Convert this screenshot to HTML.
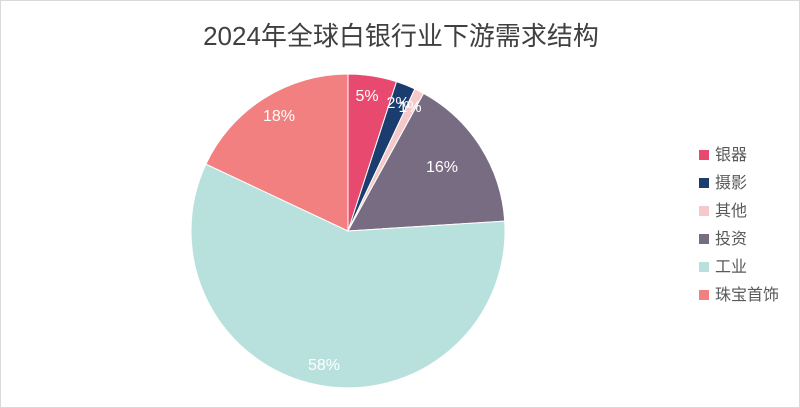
<!DOCTYPE html>
<html><head><meta charset="utf-8"><style>
body{margin:0;background:#fff;}
.wrap{position:relative;width:798px;height:406px;border:1px solid #d9d9d9;overflow:hidden;font-family:"Liberation Sans","Noto Sans CJK SC",sans-serif;}
.title{position:absolute;top:15px;left:0;width:800px;text-align:center;font-size:26px;color:#404040;}
.lab{position:absolute;color:#fff;font-size:16px;transform:translate(-50%,-50%);white-space:nowrap;}
.leg{position:absolute;left:698px;font-size:16px;color:#595959;line-height:20px;}
.leg i{display:inline-block;width:10px;height:10px;margin-right:6px;vertical-align:0px;}
</style></head><body><div class="wrap">
<div class="title">2024年全球白银行业下游需求结构</div>
<svg width="800" height="408" style="position:absolute;left:0;top:0">
<g stroke="#fff" stroke-width="1">
<path d="M347,230 L347,73 A157,157 0 0 1 395.5,80.7 Z" fill="#E8496F"/>
<path d="M347,230 L395.5,80.7 A157,157 0 0 1 413.9,87.9 Z" fill="#1B3C6E"/>
<path d="M347,230 L413.9,87.9 A157,157 0 0 1 422.6,92.4 Z" fill="#F5C9C9"/>
<path d="M347,230 L422.6,92.4 A157,157 0 0 1 503.7,220.1 Z" fill="#776C82"/>
<path d="M347,230 L503.7,220.1 A157,157 0 1 1 204.9,163.1 Z" fill="#B8E1DD"/>
<path d="M347,230 L204.9,163.1 A157,157 0 0 1 347,73 Z" fill="#F28080"/>
</g></svg>
<div class="lab" style="left:366px;top:96px">5%</div>
<div class="lab" style="left:397px;top:103px">2%</div>
<div class="lab" style="left:409px;top:107px">1%</div>
<div class="lab" style="left:441px;top:167px">16%</div>
<div class="lab" style="left:323px;top:365px">58%</div>
<div class="lab" style="left:278px;top:116px">18%</div>
<div class="leg" style="top:145px"><i style="background:#E8496F"></i>银器</div>
<div class="leg" style="top:173px"><i style="background:#1B3C6E"></i>摄影</div>
<div class="leg" style="top:201px"><i style="background:#F5C9C9"></i>其他</div>
<div class="leg" style="top:229px"><i style="background:#776C82"></i>投资</div>
<div class="leg" style="top:257px"><i style="background:#B8E1DD"></i>工业</div>
<div class="leg" style="top:285px"><i style="background:#F28080"></i>珠宝首饰</div>
</div></body></html>
